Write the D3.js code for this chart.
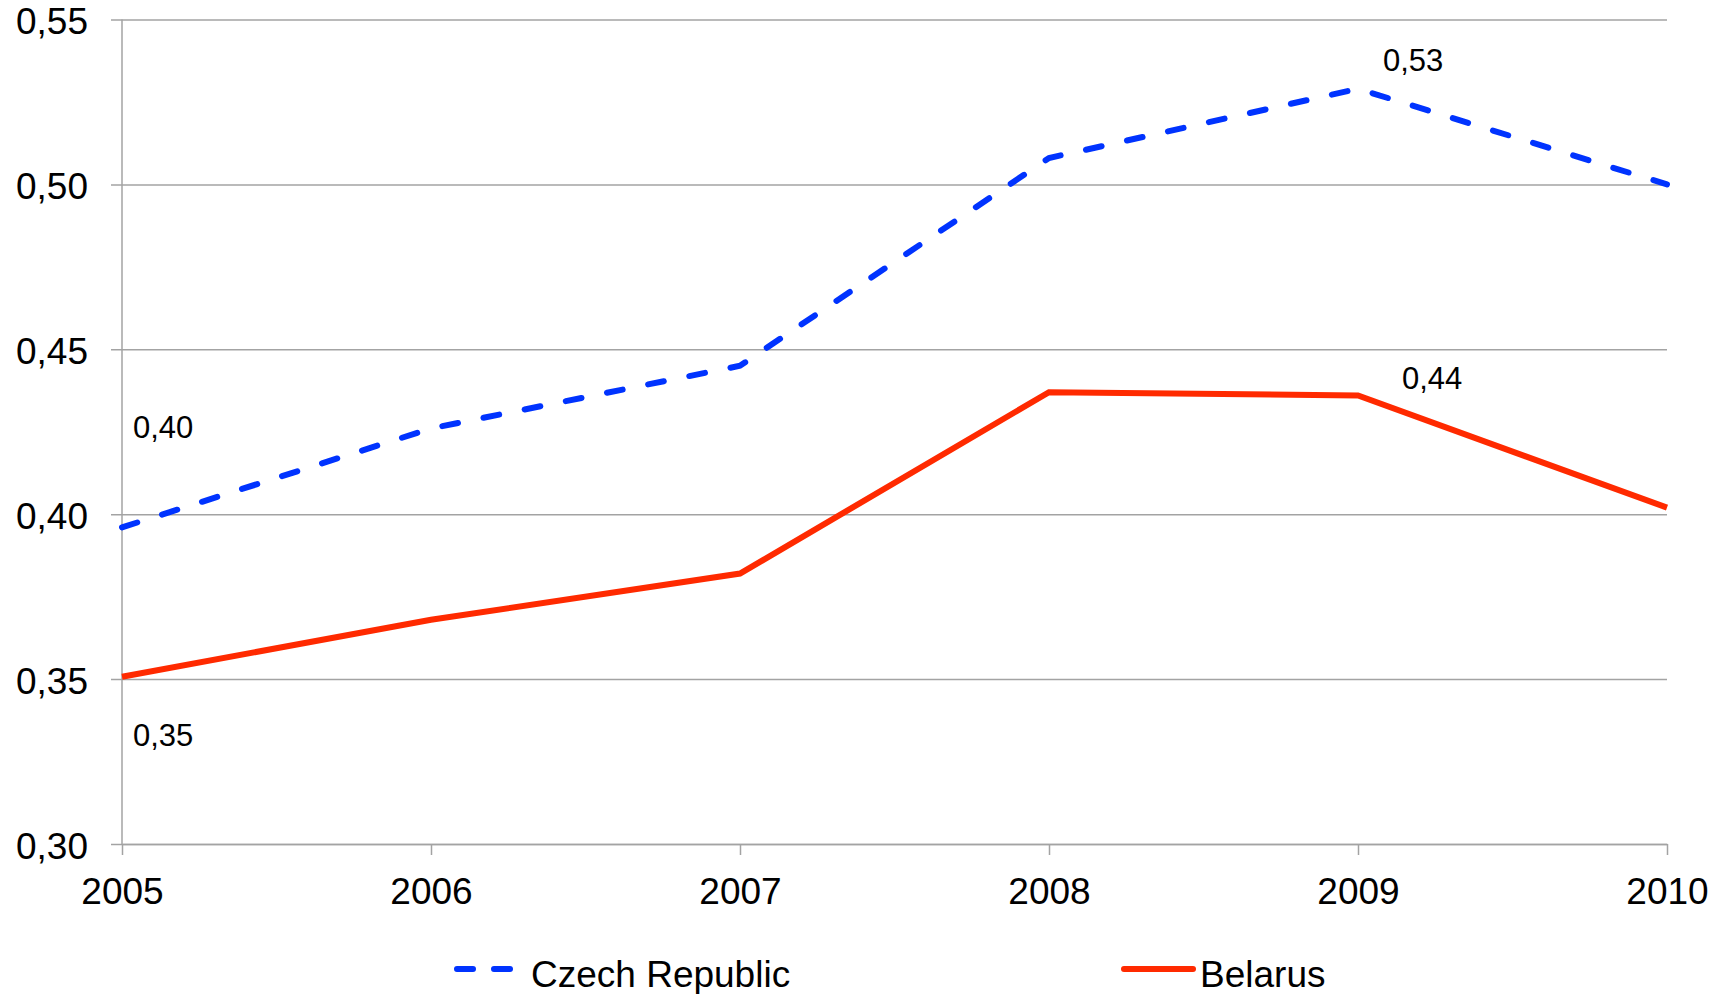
<!DOCTYPE html>
<html>
<head>
<meta charset="utf-8">
<script src="https://cdn.jsdelivr.net/npm/d3@7"></script>
<style>
  html, body { margin: 0; padding: 0; background: #fff; }
  svg { display: block; font-family: "Liberation Sans", Arial, Helvetica, sans-serif; }
</style>
</head>
<body>
<svg id="chart" width="1724" height="994"></svg>
<script>
// Years on the x axis
const years = [2005, 2006, 2007, 2008, 2009, 2010];
// Index values per country
const czechValues = [0.396, 0.426, 0.445, 0.508, 0.529, 0.500];
const belarusValues = [0.3507, 0.368, 0.382, 0.437, 0.436, 0.402];
// Y axis ticks
const yTicks = [0.30, 0.35, 0.40, 0.45, 0.50, 0.55];
// Series names
const seriesNames = ["Czech Republic", "Belarus"];

const W = 1724, H = 994;
const margin = { left: 122, right: 57, top: 19.5, bottom: 150 };
const svg = d3.select("#chart");

const x = d3.scalePoint().domain(years).range([margin.left, W - margin.right]);
const y = d3.scaleLinear().domain([0.30, 0.55]).range([H - margin.bottom, margin.top]);

const fmt = v => d3.format(".2f")(v).replace(".", ",");
const gridColor = "#a3a3a3";

// Horizontal gridlines with left tick stubs
const yAxis = d3.axisLeft(y).tickValues(yTicks).tickSize(-(W - margin.right - margin.left)).tickSizeOuter(0).tickFormat(fmt);
const gy = svg.append("g").attr("transform", `translate(${margin.left},0)`).call(yAxis);
gy.select(".domain").remove();
gy.selectAll(".tick line").attr("x1", -11).attr("stroke", gridColor).attr("stroke-width", 1.5);
gy.selectAll(".tick text")
  .attr("x", -34).attr("dy", null).attr("y", 14)
  .attr("font-size", 37).attr("fill", "#000").attr("text-anchor", "end")
  .style("font-family", "Liberation Sans, Arial, sans-serif");

// Vertical axis line
svg.append("line")
  .attr("x1", margin.left).attr("x2", margin.left)
  .attr("y1", y(0.55)).attr("y2", y(0.30))
  .attr("stroke", gridColor).attr("stroke-width", 1.5);

// Bottom axis with ticks
const xAxis = d3.axisBottom(x).tickSize(11).tickSizeOuter(0).tickFormat(d3.format("d"));
const gx = svg.append("g").attr("transform", `translate(0,${y(0.30)})`).call(xAxis);
gx.select(".domain").attr("stroke", gridColor).attr("stroke-width", 1.5);
gx.selectAll(".tick line").attr("stroke", gridColor).attr("stroke-width", 1.5);
gx.selectAll(".tick text")
  .attr("y", 60).attr("dy", null)
  .attr("font-size", 37).attr("fill", "#000")
  .style("font-family", "Liberation Sans, Arial, sans-serif");

const line = d3.line().x((d, i) => x(years[i])).y(d => y(d));

const blue = "#0033ff", red = "#ff2a00";

svg.append("path")
  .datum(belarusValues)
  .attr("d", line)
  .attr("fill", "none")
  .attr("stroke", red)
  .attr("stroke-width", 6)
  .attr("stroke-linejoin", "miter");

svg.append("path")
  .datum(czechValues)
  .attr("d", line)
  .attr("fill", "none")
  .attr("stroke", blue)
  .attr("stroke-width", 6)
  .attr("stroke-linecap", "round")
  .attr("stroke-dasharray", "16,26");

// Value labels: [series values, index, dx, dy]
const valueLabels = [
  [czechValues, 0, 11, -89],
  [belarusValues, 0, 11, 69],
  [czechValues, 4, 25, -18],
  [belarusValues, 4, 44, -6]
];
svg.append("g").selectAll("text")
  .data(valueLabels)
  .join("text")
  .attr("x", d => x(years[d[1]]) + d[2])
  .attr("y", d => y(d[0][d[1]]) + d[3])
  .attr("font-size", 31)
  .attr("fill", "#000")
  .text(d => fmt(d[0][d[1]]));

// Legend
const legend = svg.append("g");
const lgY = 969;
legend.append("line")
  .attr("x1", 457).attr("x2", 515).attr("y1", lgY).attr("y2", lgY)
  .attr("stroke", blue).attr("stroke-width", 6).attr("stroke-linecap", "round")
  .attr("stroke-dasharray", "16,21");
legend.append("text")
  .attr("x", 531).attr("y", 987).attr("font-size", 37).attr("fill", "#000")
  .text(seriesNames[0]);
legend.append("line")
  .attr("x1", 1124).attr("x2", 1193).attr("y1", lgY).attr("y2", lgY)
  .attr("stroke", red).attr("stroke-width", 6).attr("stroke-linecap", "round");
legend.append("text")
  .attr("x", 1200).attr("y", 987).attr("font-size", 37).attr("fill", "#000")
  .text(seriesNames[1]);
</script>
</body>
</html>
